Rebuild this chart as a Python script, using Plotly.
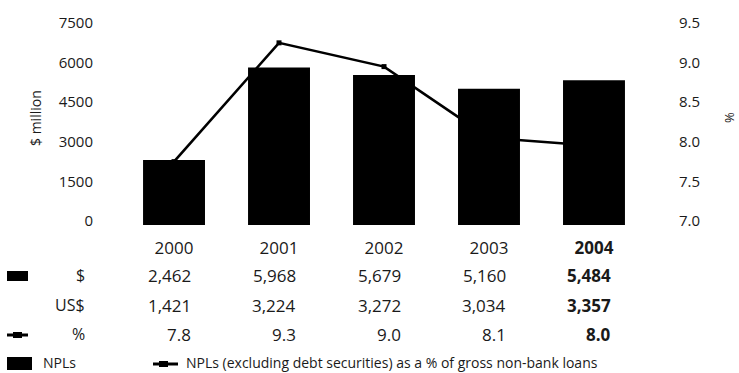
import plotly.graph_objects as go

years = ["2000", "2001", "2002", "2003", "2004"]
year_ticktext = ["2000", "2001", "2002", "2003", "<b>2004</b>"]
npl_sgd = [2462, 5968, 5679, 5160, 5484]
npl_usd = [1421, 3224, 3272, 3034, 3357]
npl_pct = [7.8, 9.3, 9.0, 8.1, 8.0]
left_ticks = [0, 1500, 3000, 4500, 6000, 7500]
right_ticks = [7.0, 7.5, 8.0, 8.5, 9.0, 9.5]
row_labels = ["$", "US$", "%"]
legend_labels = ["NPLs", "NPLs (excluding debt securities) as a % of gross non-bank loans"]

W, H = 739, 373
L, R, T, B = 100, 672, 27, 225  # plot area in pixels
FONT = "Open Sans"
TXT = "#1a1a1a"

def px(x):
    return (x - L) / (R - L)

def py(y):
    return (B - y) / (B - T)

fig = go.Figure()
fig.add_trace(go.Bar(x=years, y=npl_sgd, marker=dict(color="black", line=dict(width=0)),
                     name=legend_labels[0], showlegend=False, yaxis="y"))
fig.add_trace(go.Scatter(x=years, y=npl_pct, mode="lines+markers", yaxis="y2",
                         line=dict(color="black", width=2.6),
                         marker=dict(symbol="square", size=5, color="black"),
                         name=legend_labels[1], showlegend=False, cliponaxis=False))

ann = []
shapes = []
# table rows
rows = [npl_sgd, npl_usd, npl_pct]
row_y = [275, 305, 334]
for r, (vals, yy) in enumerate(zip(rows, row_y)):
    for i, v in enumerate(vals):
        txt = f"{v:,}" if r < 2 else f"{v:.1f}"
        if i == len(vals) - 1:
            txt = f"<b>{txt}</b>"
        ann.append(dict(x=i, y=py(yy), xref="x", yref="paper", text=txt,
                        xanchor="right", yanchor="middle", xshift=19, showarrow=False,
                        font=dict(family=FONT, size=17, color=TXT)))
    ann.append(dict(x=px(87), y=py(yy), xref="paper", yref="paper", text=row_labels[r],
                    xanchor="right", yanchor="middle", showarrow=False,
                    font=dict(family=FONT, size=16, color=TXT)))

# row icons
shapes.append(dict(type="rect", xref="paper", yref="paper", x0=px(7), x1=px(28),
                   y0=py(281), y1=py(271), fillcolor="black", line=dict(width=0)))
shapes.append(dict(type="line", xref="paper", yref="paper", x0=px(7), x1=px(28),
                   y0=py(335), y1=py(335), line=dict(color="black", width=3)))
shapes.append(dict(type="rect", xref="paper", yref="paper", x0=px(13), x1=px(22),
                   y0=py(338), y1=py(332), fillcolor="black", line=dict(width=0)))

# legend
shapes.append(dict(type="rect", xref="paper", yref="paper", x0=px(7), x1=px(32),
                   y0=py(370), y1=py(357), fillcolor="black", line=dict(width=0)))
ann.append(dict(x=px(41), y=py(362), xref="paper", yref="paper", text=legend_labels[0],
                xanchor="left", yanchor="middle", showarrow=False,
                font=dict(family=FONT, size=14, color=TXT)))
shapes.append(dict(type="line", xref="paper", yref="paper", x0=px(153), x1=px(178),
                   y0=py(364), y1=py(364), line=dict(color="black", width=3)))
shapes.append(dict(type="rect", xref="paper", yref="paper", x0=px(159), x1=px(168),
                   y0=py(367), y1=py(361), fillcolor="black", line=dict(width=0)))
ann.append(dict(x=px(184), y=py(362), xref="paper", yref="paper", text=legend_labels[1],
                xanchor="left", yanchor="middle", showarrow=False,
                font=dict(family=FONT, size=14, color=TXT)))

# axis titles
ann.append(dict(x=px(36), y=py(118), xref="paper", yref="paper", text="$ million",
                textangle=-90, showarrow=False, xanchor="center", yanchor="middle",
                font=dict(family=FONT, size=14, color=TXT)))
ann.append(dict(x=px(729), y=py(118), xref="paper", yref="paper", text="%",
                textangle=-90, showarrow=False, xanchor="center", yanchor="middle",
                font=dict(family=FONT, size=13, color=TXT)))

fig.update_layout(
    width=W, height=H,
    margin=dict(l=L, r=W - R, t=T, b=H - B),
    paper_bgcolor="white", plot_bgcolor="white",
    bargap=0.41,
    showlegend=False,
    font=dict(family=FONT, color=TXT),
    xaxis=dict(type="category", range=[-0.705, 4.743], tickvals=years, ticktext=year_ticktext,
               showgrid=False, zeroline=False, showline=False, ticks="",
               tickfont=dict(family=FONT, size=17, color=TXT), ticklabelstandoff=11),
    yaxis=dict(range=[0, 7500], tickvals=left_ticks, showgrid=False, zeroline=False,
               showline=False, ticks="", tickfont=dict(family=FONT, size=15, color=TXT),
               ticklabelstandoff=6, ticklabelshift=-4),
    yaxis2=dict(range=[7.0, 9.5], tickvals=right_ticks, ticktext=[f"{v:.1f}" for v in right_ticks],
                overlaying="y", side="right", showgrid=False, zeroline=False, showline=False,
                ticks="", tickfont=dict(family=FONT, size=15, color=TXT), ticklabelstandoff=6,
                ticklabelshift=-4),
    annotations=ann, shapes=shapes,
)

fig.write_html("out.html")
